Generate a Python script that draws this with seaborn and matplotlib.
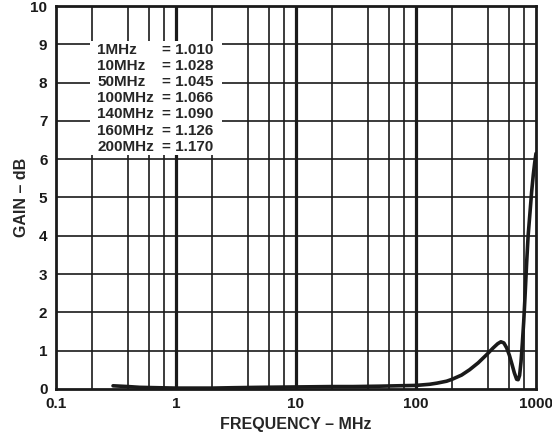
import matplotlib
matplotlib.use("Agg")
import matplotlib.pyplot as plt
import seaborn as sns
import pandas as pd
from matplotlib.patches import Rectangle

# frequency response (MHz, dB)
freq_mhz = [0.3, 0.4, 0.5, 0.7, 1, 2, 3, 5, 10, 20, 30, 50, 70, 100, 130, 150,
            180, 200, 240, 280, 330, 390, 440, 480, 510, 540, 570, 600, 630,
            660, 690, 710, 730, 750, 770, 790, 810, 836, 860, 891, 920, 950,
            975, 1000]
gain_db = [0.08, 0.06, 0.04, 0.03, 0.02, 0.02, 0.03, 0.04, 0.05, 0.06, 0.06,
           0.07, 0.08, 0.09, 0.12, 0.15, 0.2, 0.25, 0.36, 0.5, 0.68, 0.9, 1.07,
           1.18, 1.23, 1.2, 1.07, 0.88, 0.65, 0.42, 0.25, 0.24, 0.35, 0.7, 1.2,
           1.75, 2.4, 3.3, 4.0, 4.6, 5.15, 5.6, 5.9, 6.15]

note_freq = ["1MHz", "10MHz", "50MHz", "100MHz", "140MHz", "160MHz", "200MHz"]
note_gain = ["1.010", "1.028", "1.045", "1.066", "1.090", "1.126", "1.170"]

x_ticks = [0.1, 1, 10, 100, 1000]
x_ticklabels = ["0.1", "1", "10", "100", "1000"]
y_ticks = list(range(0, 11))

sns.set_style("white")
plt.rcParams['font.family'] = ['Liberation Sans', 'DejaVu Sans']
plt.rcParams['font.weight'] = 'bold'

df = pd.DataFrame({"freq": freq_mhz, "gain": gain_db})

fig = plt.figure(figsize=(5.52, 4.34), dpi=100)
ax = fig.add_axes([0.101, 0.104, 0.870, 0.882])

sns.lineplot(data=df, x="freq", y="gain", ax=ax, color="#1a1a1a", lw=2.6,
             zorder=5)

ax.set_xscale("log")
ax.set_xlim(0.1, 1000)
ax.set_ylim(0, 10)

# grid: minor lines at 2,4,6,8 per decade, heavier decade lines
minor = [m * 10.0 ** d for d in range(-1, 3) for m in (2, 4, 6, 8)]
for v in minor:
    ax.axvline(v, color="#1a1a1a", lw=1.2, zorder=1)
for v in x_ticks[1:-1]:
    ax.axvline(v, color="#1a1a1a", lw=2.3, zorder=1)
for v in y_ticks[1:-1]:
    ax.axhline(v, color="#1a1a1a", lw=1.2, zorder=1)

ax.set_xticks(x_ticks)
ax.set_xticklabels(x_ticklabels)
ax.xaxis.set_minor_locator(matplotlib.ticker.NullLocator())
ax.set_yticks(y_ticks)
ax.tick_params(length=0, labelsize=11, colors="#1a1a1a")
ax.tick_params(axis="x", pad=6)
ax.tick_params(axis="y", pad=6)
for lab in ax.get_xticklabels() + ax.get_yticklabels():
    lab.set_fontweight("bold")

for s in ax.spines.values():
    s.set_color("#1a1a1a")
    s.set_linewidth(2.0)

ax.set_xlabel("FREQUENCY – MHz", fontsize=11.5, fontweight="bold", labelpad=4)
ax.set_ylabel("GAIN – dB", fontsize=11.5, fontweight="bold", labelpad=1)

# note box
ax.add_patch(Rectangle((0.071, 0.611), 0.275, 0.298, transform=ax.transAxes,
                       facecolor="white", edgecolor="none", zorder=3))
for i, (f, g) in enumerate(zip(note_freq, note_gain)):
    yy = 0.886 - i * 0.0423
    ax.text(0.086, yy, f, transform=ax.transAxes, fontsize=11,
            fontweight="bold", va="center", ha="left", zorder=4)
    ax.text(0.222, yy, "= " + g, transform=ax.transAxes, fontsize=11,
            fontweight="bold", va="center", ha="left", zorder=4)

fig.savefig("out.png", dpi=100)
